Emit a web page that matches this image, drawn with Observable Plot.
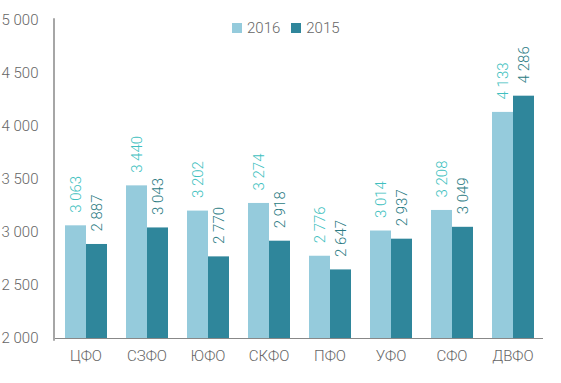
<!DOCTYPE html>
<html><head><meta charset="utf-8">
<script src="https://cdn.jsdelivr.net/npm/d3@7"></script>
<script src="https://cdn.jsdelivr.net/npm/@observablehq/plot@0.6"></script>
<style>
body{margin:0;background:#fff;font-family:Roboto,sans-serif;}
#wrap{position:relative;width:561px;height:383px;}
#legend{position:absolute;top:19px;left:232px;display:flex;align-items:center;font:300 15px Roboto,sans-serif;color:#666;}
#legend span.sw{display:inline-block;width:10px;height:10px;margin-right:5px;}
#legend span.lb{margin-right:11px;}
</style></head>
<body><div id="wrap"><div id="legend"></div></div>
<script>
const categories = ["ЦФО","СЗФО","ЮФО","СКФО","ПФО","УФО","СФО","ДВФО"];
const series = ["2016","2015"];
const values2016 = [3063,3440,3202,3274,2776,3014,3208,4133];
const values2015 = [2887,3043,2770,2918,2647,2937,3049,4286];
const yTicks = [2000,2500,3000,3500,4000,4500,5000];
const barColors = ["#95cbdc","#2f869b"];
const labelColors = ["#40bfc0","#2b7b83"];

const data = [];
categories.forEach((c,i)=>{
  data.push({cat:c, series:"2016", value:values2016[i]});
  data.push({cat:c, series:"2015", value:values2015[i]});
});
const fmt = v => d3.format(",")(v).replace(/,/g," ");

const chart = Plot.plot({
  width:561, height:383,
  marginLeft:55, marginRight:18, marginTop:20, marginBottom:45,
  style:{fontFamily:"Roboto, sans-serif", fontSize:"15px", fontWeight:300, color:"#666", background:"transparent"},
  fx:{domain:categories, padding:0, label:null, tickSize:0, tickPadding:12},
  x:{domain:series, paddingInner:0, paddingOuter:0.452, axis:null},
  y:{domain:[2000,5000], ticks:yTicks, tickFormat:fmt, tickSize:0, tickPadding:17, label:null},
  color:{domain:series, range:barColors},
  marks:[
    Plot.barY(data,{fx:"cat", x:"series", y1:2000, y2:"value", fill:"series"}),
    Plot.frame({anchor:"left", facetAnchor:"left", stroke:"#888", strokeWidth:1.5, inset:-1.5}),
    Plot.ruleY([2000],{stroke:"#888", strokeWidth:1.2}),
    Plot.text(data,{fx:"cat", x:"series", y:"value", text:d=>fmt(d.value), rotate:-90, textAnchor:"start", dy:-13,
      fill:d=>d.series==="2016"?labelColors[0]:labelColors[1], fontSize:15})
  ]
});
document.getElementById("wrap").prepend(chart);
const lg = document.getElementById("legend");
series.forEach((s,i)=>{
  lg.insertAdjacentHTML("beforeend",`<span class="sw" style="background:${barColors[i]}"></span><span class="lb">${s}</span>`);
});
</script></body></html>
